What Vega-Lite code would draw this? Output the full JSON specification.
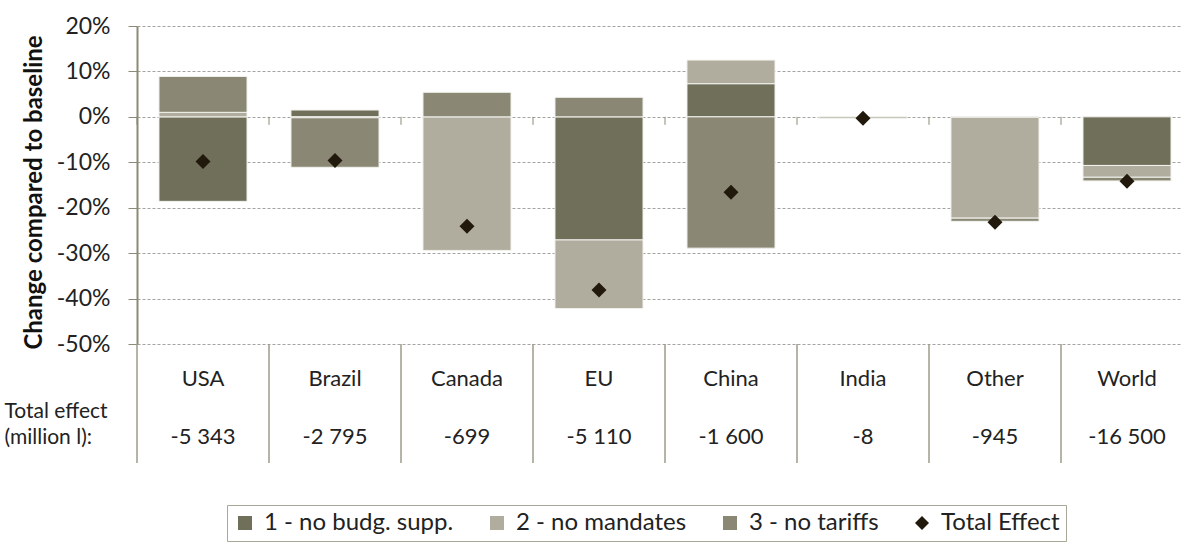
{
  "$schema": "https://vega.github.io/schema/vega-lite/v6.json",
  "background": "white",
  "padding": {"left": 4, "top": 15, "right": 0, "bottom": 0},
  "bounds": "flush",
  "config": {"font": "Lato", "view": {"stroke": null}},
  "spacing": 0,
  "resolve": {"scale": {"x": "independent", "y": "independent"}},
  "datasets": {
    "bars": [
      {"country": "USA", "series": "1 - no budg. supp.", "value": -0.186},
      {"country": "USA", "series": "2 - no mandates", "value": 0.010},
      {"country": "USA", "series": "3 - no tariffs", "value": 0.079},
      {"country": "Brazil", "series": "1 - no budg. supp.", "value": 0.015},
      {"country": "Brazil", "series": "2 - no mandates", "value": -0.002},
      {"country": "Brazil", "series": "3 - no tariffs", "value": -0.109},
      {"country": "Canada", "series": "1 - no budg. supp.", "value": 0.0},
      {"country": "Canada", "series": "2 - no mandates", "value": -0.294},
      {"country": "Canada", "series": "3 - no tariffs", "value": 0.054},
      {"country": "EU", "series": "1 - no budg. supp.", "value": -0.271},
      {"country": "EU", "series": "2 - no mandates", "value": -0.151},
      {"country": "EU", "series": "3 - no tariffs", "value": 0.043},
      {"country": "China", "series": "1 - no budg. supp.", "value": 0.073},
      {"country": "China", "series": "2 - no mandates", "value": 0.052},
      {"country": "China", "series": "3 - no tariffs", "value": -0.289},
      {"country": "India", "series": "1 - no budg. supp.", "value": 0.0},
      {"country": "India", "series": "2 - no mandates", "value": -0.0005},
      {"country": "India", "series": "3 - no tariffs", "value": -0.003},
      {"country": "Other", "series": "1 - no budg. supp.", "value": -0.001},
      {"country": "Other", "series": "2 - no mandates", "value": -0.222},
      {"country": "Other", "series": "3 - no tariffs", "value": -0.007},
      {"country": "World", "series": "1 - no budg. supp.", "value": -0.107},
      {"country": "World", "series": "2 - no mandates", "value": -0.026},
      {"country": "World", "series": "3 - no tariffs", "value": -0.008}
    ],
    "totals": [
      {"country": "USA", "series": "Total Effect", "total": -0.098},
      {"country": "Brazil", "series": "Total Effect", "total": -0.096},
      {"country": "Canada", "series": "Total Effect", "total": -0.241},
      {"country": "EU", "series": "Total Effect", "total": -0.381},
      {"country": "China", "series": "Total Effect", "total": -0.166},
      {"country": "India", "series": "Total Effect", "total": -0.003},
      {"country": "Other", "series": "Total Effect", "total": -0.232},
      {"country": "World", "series": "Total Effect", "total": -0.142}
    ],
    "table": [
      {"country": "USA", "row": "name", "label": "USA"},
      {"country": "Brazil", "row": "name", "label": "Brazil"},
      {"country": "Canada", "row": "name", "label": "Canada"},
      {"country": "EU", "row": "name", "label": "EU"},
      {"country": "China", "row": "name", "label": "China"},
      {"country": "India", "row": "name", "label": "India"},
      {"country": "Other", "row": "name", "label": "Other"},
      {"country": "World", "row": "name", "label": "World"},
      {"country": "USA", "row": "total", "label": "-5 343"},
      {"country": "Brazil", "row": "total", "label": "-2 795"},
      {"country": "Canada", "row": "total", "label": "-699"},
      {"country": "EU", "row": "total", "label": "-5 110"},
      {"country": "China", "row": "total", "label": "-1 600"},
      {"country": "India", "row": "total", "label": "-8"},
      {"country": "Other", "row": "total", "label": "-945"},
      {"country": "World", "row": "total", "label": "-16 500"}
    ]
  },
  "vconcat": [
    {
      "width": 1044,
      "height": 318,
      "encoding": {
        "x": {
          "field": "country", "type": "nominal",
          "sort": ["USA", "Brazil", "Canada", "EU", "China", "India", "Other", "World"],
          "scale": {"type": "band", "range": [0, 1056], "paddingInner": 0, "paddingOuter": 0},
          "axis": null
        }
      },
      "layer": [
        {
          "data": {"name": "bars"},
          "mark": {"type": "bar", "width": {"band": 0.667}, "stroke": "#f2f2ee", "strokeWidth": 1},
          "encoding": {
            "y": {
              "field": "value", "type": "quantitative", "stack": "zero",
              "scale": {"domain": [-0.5, 0.2], "nice": false, "zero": false},
              "axis": {
                "values": [-0.5, -0.4, -0.3, -0.2, -0.1, 0, 0.1, 0.2],
                "labelExpr": "'' + round(datum.value * 100) + '%'",
                "grid": true, "gridDash": [3, 2], "gridColor": "#a3a3a0", "gridWidth": 1,
                "domainColor": "#8c8a78", "domainWidth": 2,
                "tickColor": "#8c8a78", "tickSize": 9, "tickWidth": 1,
                "labelPadding": 18, "labelFontSize": 23, "labelColor": "#222222",
                "title": "Change compared to baseline",
                "titleFontSize": 24, "titleFontWeight": "bold", "titleColor": "#111111",
                "titlePadding": 10, "titleY": 166
              }
            },
            "color": {
              "field": "series", "type": "nominal",
              "scale": {
                "domain": ["1 - no budg. supp.", "2 - no mandates", "3 - no tariffs", "Total Effect"],
                "range": ["#706f5a", "#b0ad9e", "#8a8875", "#21190b"]
              },
              "legend": {
                "orient": "none", "legendX": 90, "legendY": 479,
                "direction": "horizontal", "title": null,
                "strokeColor": "#a8a898", "padding": 6,
                "labelFontSize": 24, "labelColor": "#222222", "labelLimit": 0,
                "symbolSize": 196, "symbolStrokeWidth": 0,
                "labelOffset": 7, "columnPadding": 31
              }
            },
            "order": {"field": "series"}
          }
        },
        {
          "mark": {"type": "rule", "color": "#8c8a78", "strokeWidth": 2},
          "encoding": {"y": {"datum": 0}}
        },
        {
          "data": {"name": "table"},
          "transform": [{"filter": "datum.row == 'name'"}],
          "mark": {"type": "rule", "color": "#8c8a78", "strokeWidth": 1},
          "encoding": {
            "x": {"field": "country", "type": "nominal", "bandPosition": 0,
                  "sort": ["USA", "Brazil", "Canada", "EU", "China", "India", "Other", "World"]},
            "y": {"datum": 0},
            "y2": {"datum": -0.0176}
          }
        },
        {
          "data": {"name": "totals"},
          "mark": {"type": "point", "filled": true, "size": 225, "opacity": 1},
          "encoding": {
            "y": {"field": "total", "type": "quantitative"},
            "color": {
              "field": "series", "type": "nominal",
              "scale": {
                "domain": ["1 - no budg. supp.", "2 - no mandates", "3 - no tariffs", "Total Effect"],
                "range": ["#706f5a", "#b0ad9e", "#8a8875", "#21190b"]
              }
            },
            "shape": {
              "field": "series", "type": "nominal",
              "scale": {
                "domain": ["1 - no budg. supp.", "2 - no mandates", "3 - no tariffs", "Total Effect"],
                "range": ["square", "square", "square", "diamond"]
              },
              "legend": {
                "orient": "none", "legendX": 90, "legendY": 479,
                "direction": "horizontal", "title": null,
                "strokeColor": "#a8a898", "padding": 6,
                "labelFontSize": 24, "labelColor": "#222222", "labelLimit": 0,
                "symbolSize": 196, "symbolStrokeWidth": 0,
                "labelOffset": 7, "columnPadding": 31
              }
            }
          }
        }
      ]
    },
    {
      "width": 1044,
      "height": 119,
      "data": {"name": "table"},
      "encoding": {
        "x": {
          "field": "country", "type": "nominal",
          "sort": ["USA", "Brazil", "Canada", "EU", "China", "India", "Other", "World"],
          "scale": {"type": "band", "range": [0, 1056], "paddingInner": 0, "paddingOuter": 0},
          "axis": null
        }
      },
      "layer": [
        {
          "transform": [{"filter": "datum.row == 'name'"}],
          "mark": {"type": "rule", "color": "#9c9b8a", "strokeWidth": 1.5},
          "encoding": {
            "x": {"field": "country", "type": "nominal", "bandPosition": 0,
                  "sort": ["USA", "Brazil", "Canada", "EU", "China", "India", "Other", "World"]}
          }
        },
        {
          "mark": {"type": "text", "fontSize": 22, "color": "#222222"},
          "encoding": {
            "y": {
              "field": "row", "type": "ordinal",
              "scale": {"type": "point", "domain": ["name", "total"], "range": [35, 93], "padding": 0},
              "axis": {
                "orient": "left", "labels": false, "ticks": false, "domain": false, "grid": false,
                "title": ["Total effect", "(million l):"],
                "titleAngle": 0, "titleAlign": "left", "titleBaseline": "middle",
                "titleX": -133, "titleY": 67,
                "titleFontSize": 21, "titleFontWeight": "normal", "titleColor": "#222222",
                "titleLineHeight": 26
              }
            },
            "text": {"field": "label"}
          }
        }
      ]
    }
  ]
}
